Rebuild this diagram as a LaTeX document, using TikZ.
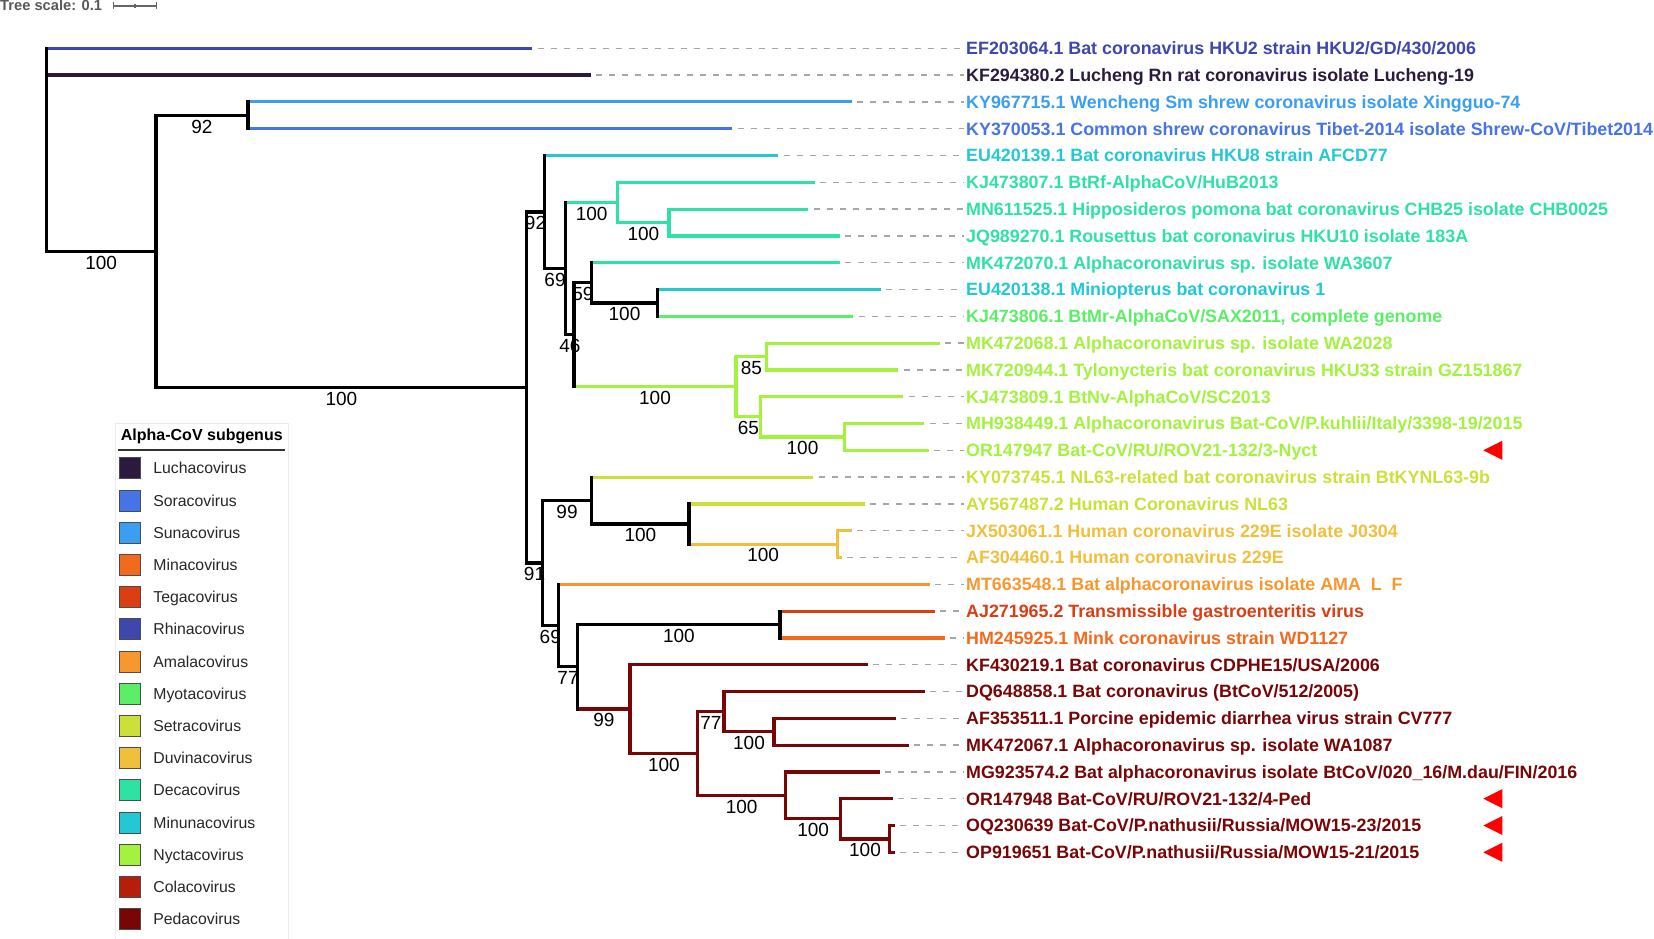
\documentclass[tikz,border=0pt]{standalone}
\usepackage{fontspec}
\setmainfont{Liberation Sans}
\usetikzlibrary{positioning}

\definecolor{lucha}{HTML}{2B1A3E}
\definecolor{sora}{HTML}{4673E6}
\definecolor{suna}{HTML}{3A9EF2}
\definecolor{mina}{HTML}{F26A1E}
\definecolor{tega}{HTML}{DA3E12}
\definecolor{rhina}{HTML}{3E47AC}
\definecolor{amala}{HTML}{F7982F}
\definecolor{myota}{HTML}{5CEE66}
\definecolor{setra}{HTML}{CCE03A}
\definecolor{duvina}{HTML}{F0C03C}
\definecolor{deca}{HTML}{2EE2A4}
\definecolor{minuna}{HTML}{22C8D4}
\definecolor{nycta}{HTML}{A2F23E}
\definecolor{cola}{HTML}{B61E0A}
\definecolor{peda}{HTML}{780606}

\tikzstyle{branch} = [line width=3.2pt, line cap=rect]
\tikzstyle{support} = [midway, yshift=-11pt, inner sep=0pt, text height=13.5pt, text depth=0pt,
font=\fontsize{19}{19}\selectfont]
\tikzstyle{tiplabel} = [anchor=west, inner sep=0pt, text height=12.8pt, text depth=0pt,
font=\bfseries\fontsize{17.85}{18}\selectfont]
\tikzstyle{guide} = [draw=black!35, line width=1.3pt, dash pattern=on 6pt off 7pt, shorten <=7pt, shorten >=2pt]
\tikzstyle{swatch} = [rectangle, draw=black!70, line width=0.9pt, minimum size=21pt, inner sep=0pt]
\tikzstyle{legtext} = [anchor=west, inner sep=0pt, text height=11.3pt, text depth=0pt, text=black!85,
font=\fontsize{15.8}{16}\selectfont]

\newcommand{\ry}[1]{48.3+26.8*#1}

\begin{document}
\begin{tikzpicture}[x=1pt, y=-1pt]
	\useasboundingbox (0,0) rectangle (1654,939);

	% Tree scale
	\node [anchor=base west, inner sep=0pt, text=black!65, font=\bfseries\fontsize{14.7}{15}\selectfont] (scaletext) at (0,11) {Tree scale: 0.1};
	\draw [black!60, line width=1.2pt] (113.3,6) -- (156.7,6);
	\draw [black!60, line width=1.2pt] (113.3,2.5) -- (113.3,9.5) (156.7,2.5) -- (156.7,9.5) (135,4) -- (135,8);

	% Place leaves
	\coordinate (t0) at (530.7,{\ry{0}});
	\coordinate (t1) at (589.3,{\ry{1}});
	\coordinate (t2) at (850,{\ry{2}});
	\coordinate (t3) at (730.7,{\ry{3}});
	\coordinate (t4) at (776.7,{\ry{4}});
	\coordinate (t5) at (813.3,{\ry{5}});
	\coordinate (t6) at (806.7,{\ry{6}});
	\coordinate (t7) at (838.3,{\ry{7}});
	\coordinate (t8) at (838.3,{\ry{8}});
	\coordinate (t9) at (879,{\ry{9}});
	\coordinate (t10) at (851.7,{\ry{10}});
	\coordinate (t11) at (938.3,{\ry{11}});
	\coordinate (t12) at (896.7,{\ry{12}});
	\coordinate (t13) at (901.7,{\ry{13}});
	\coordinate (t14) at (922.7,{\ry{14}});
	\coordinate (t15) at (927.3,{\ry{15}});
	\coordinate (t16) at (811.7,{\ry{16}});
	\coordinate (t17) at (863.3,{\ry{17}});
	\coordinate (t18) at (850,{\ry{18}});
	\coordinate (t19) at (840,{\ry{19}});
	\coordinate (t20) at (928.3,{\ry{20}});
	\coordinate (t21) at (933.3,{\ry{21}});
	\coordinate (t22) at (943.3,{\ry{22}});
	\coordinate (t23) at (866,{\ry{23}});
	\coordinate (t24) at (923.3,{\ry{24}});
	\coordinate (t25) at (894.3,{\ry{25}});
	\coordinate (t26) at (907.3,{\ry{26}});
	\coordinate (t27) at (878.3,{\ry{27}});
	\coordinate (t28) at (891,{\ry{28}});
	\coordinate (t29) at (893,{\ry{29}});
	\coordinate (t30) at (893,{\ry{30}});

	% Place inner nodes
	\coordinate (root) at (46.4,{\ry{0}});
	\coordinate (nA) at (156,{\ry{7.5791}});
	\coordinate (nB) at (248,{\ry{2.5}});
	\coordinate (nC) at (526.7,{\ry{12.6582}});
	\coordinate (nD) at (544.3,{\ry{6.1094}});
	\coordinate (nE) at (565.7,{\ry{8.2188}});
	\coordinate (nF) at (617.7,{\ry{5.75}});
	\coordinate (nG) at (669,{\ry{6.5}});
	\coordinate (nH) at (574,{\ry{10.6875}});
	\coordinate (nI) at (591.7,{\ry{8.75}});
	\coordinate (nJ) at (657.3,{\ry{9.5}});
	\coordinate (nK) at (736,{\ry{12.625}});
	\coordinate (nL) at (766.7,{\ry{11.5}});
	\coordinate (nM) at (760.7,{\ry{13.75}});
	\coordinate (nN) at (844.3,{\ry{14.5}});
	\coordinate (nP) at (542.3,{\ry{19.207}});
	\coordinate (nQ) at (591.7,{\ry{16.875}});
	\coordinate (nR) at (689,{\ry{17.75}});
	\coordinate (nS) at (837.3,{\ry{18.5}});
	\coordinate (nT) at (558.3,{\ry{21.5391}});
	\coordinate (nU) at (577.7,{\ry{23.0781}});
	\coordinate (nV) at (780,{\ry{21.5}});
	\coordinate (nW) at (630,{\ry{24.6563}});
	\coordinate (nX) at (697.7,{\ry{26.3125}});
	\coordinate (nY) at (724,{\ry{24.75}});
	\coordinate (nZ) at (774,{\ry{25.5}});
	\coordinate (nAA) at (785.7,{\ry{27.875}});
	\coordinate (nAB) at (840.7,{\ry{28.75}});
	\coordinate (nAC) at (889.3,{\ry{29.5}});

	% Place labels
	\node [tiplabel, text=rhina] (l0) at (966,{\ry{0}}) {EF203064.1 Bat coronavirus HKU2 strain HKU2/GD/430/2006};
	\node [tiplabel, text=lucha] (l1) at (966,{\ry{1}}) {KF294380.2 Lucheng Rn rat coronavirus isolate Lucheng-19};
	\node [tiplabel, text=suna] (l2) at (966,{\ry{2}}) {KY967715.1 Wencheng Sm shrew coronavirus isolate Xingguo-74};
	\node [tiplabel, text=sora] (l3) at (966,{\ry{3}}) {KY370053.1 Common shrew coronavirus Tibet-2014 isolate Shrew-CoV/Tibet2014};
	\node [tiplabel, text=minuna] (l4) at (966,{\ry{4}}) {EU420139.1 Bat coronavirus HKU8 strain AFCD77};
	\node [tiplabel, text=deca] (l5) at (966,{\ry{5}}) {KJ473807.1 BtRf-AlphaCoV/HuB2013};
	\node [tiplabel, text=deca] (l6) at (966,{\ry{6}}) {MN611525.1 Hipposideros pomona bat coronavirus CHB25 isolate CHB0025};
	\node [tiplabel, text=deca] (l7) at (966,{\ry{7}}) {JQ989270.1 Rousettus bat coronavirus HKU10 isolate 183A};
	\node [tiplabel, text=deca] (l8) at (966,{\ry{8}}) {MK472070.1 Alphacoronavirus sp. isolate WA3607};
	\node [tiplabel, text=minuna] (l9) at (966,{\ry{9}}) {EU420138.1 Miniopterus bat coronavirus 1};
	\node [tiplabel, text=myota] (l10) at (966,{\ry{10}}) {KJ473806.1 BtMr-AlphaCoV/SAX2011, complete genome};
	\node [tiplabel, text=nycta] (l11) at (966,{\ry{11}}) {MK472068.1 Alphacoronavirus sp. isolate WA2028};
	\node [tiplabel, text=nycta] (l12) at (966,{\ry{12}}) {MK720944.1 Tylonycteris bat coronavirus HKU33 strain GZ151867};
	\node [tiplabel, text=nycta] (l13) at (966,{\ry{13}}) {KJ473809.1 BtNv-AlphaCoV/SC2013};
	\node [tiplabel, text=nycta] (l14) at (966,{\ry{14}}) {MH938449.1 Alphacoronavirus Bat-CoV/P.kuhlii/Italy/3398-19/2015};
	\node [tiplabel, text=nycta] (l15) at (966,{\ry{15}}) {OR147947 Bat-CoV/RU/ROV21-132/3-Nyct};
	\node [tiplabel, text=setra] (l16) at (966,{\ry{16}}) {KY073745.1 NL63-related bat coronavirus strain BtKYNL63-9b};
	\node [tiplabel, text=setra] (l17) at (966,{\ry{17}}) {AY567487.2 Human Coronavirus NL63};
	\node [tiplabel, text=duvina] (l18) at (966,{\ry{18}}) {JX503061.1 Human coronavirus 229E isolate J0304};
	\node [tiplabel, text=duvina] (l19) at (966,{\ry{19}}) {AF304460.1 Human coronavirus 229E};
	\node [tiplabel, text=amala] (l20) at (966,{\ry{20}}) {MT663548.1 Bat alphacoronavirus isolate AMA\ \ L\ \ F};
	\node [tiplabel, text=tega] (l21) at (966,{\ry{21}}) {AJ271965.2 Transmissible gastroenteritis virus};
	\node [tiplabel, text=mina] (l22) at (966,{\ry{22}}) {HM245925.1 Mink coronavirus strain WD1127};
	\node [tiplabel, text=peda] (l23) at (966,{\ry{23}}) {KF430219.1 Bat coronavirus CDPHE15/USA/2006};
	\node [tiplabel, text=peda] (l24) at (966,{\ry{24}}) {DQ648858.1 Bat coronavirus (BtCoV/512/2005)};
	\node [tiplabel, text=peda] (l25) at (966,{\ry{25}}) {AF353511.1 Porcine epidemic diarrhea virus strain CV777};
	\node [tiplabel, text=peda] (l26) at (966,{\ry{26}}) {MK472067.1 Alphacoronavirus sp. isolate WA1087};
	\node [tiplabel, text=peda] (l27) at (966,{\ry{27}}) {MG923574.2 Bat alphacoronavirus isolate BtCoV/020\_16/M.dau/FIN/2016};
	\node [tiplabel, text=peda] (l28) at (966,{\ry{28}}) {OR147948 Bat-CoV/RU/ROV21-132/4-Ped};
	\node [tiplabel, text=peda] (l29) at (966,{\ry{29}}) {OQ230639 Bat-CoV/P.nathusii/Russia/MOW15-23/2015};
	\node [tiplabel, text=peda] (l30) at (966,{\ry{30}}) {OP919651 Bat-CoV/P.nathusii/Russia/MOW15-21/2015};

	% Draw edges
	\foreach \i in {0,...,30}
		\draw [guide] (t\i) -- (l\i.west);

	\foreach \p/\i/\c in {root/0/rhina, root/1/lucha, nB/2/suna, nB/3/sora, nD/4/minuna, nF/5/deca,
		nG/6/deca, nG/7/deca, nI/8/deca, nJ/9/minuna, nJ/10/myota, nL/11/nycta, nL/12/nycta, nM/13/nycta,
		nN/14/nycta, nN/15/nycta, nQ/16/setra, nR/17/setra, nS/18/duvina, nS/19/duvina, nT/20/amala,
		nV/21/tega, nV/22/mina, nW/23/peda, nY/24/peda, nZ/25/peda, nZ/26/peda, nAA/27/peda,
		nAB/28/peda, nAC/29/peda, nAC/30/peda}
		\draw [branch, \c] (\p |- t\i) -- (t\i);

	\foreach \p/\q/\c/\s in {root/nA/black/100, nA/nB/black/92, nA/nC/black/100, nC/nD/black/92,
		nD/nE/black/69, nE/nF/deca/100, nF/nG/deca/100, nE/nH/black/46, nH/nI/black/59, nI/nJ/black/100,
		nH/nK/nycta/100, nK/nL/nycta/85, nK/nM/nycta/65, nM/nN/nycta/100, nC/nP/black/91, nP/nQ/black/99,
		nQ/nR/black/100, nR/nS/duvina/100, nP/nT/black/69, nT/nU/black/77, nU/nV/black/100,
		nU/nW/peda/99, nW/nX/peda/100, nX/nY/peda/77, nY/nZ/peda/100, nX/nAA/peda/100,
		nAA/nAB/peda/100, nAB/nAC/peda/100}
		\draw [branch, \c] (\p |- \q) -- (\q) node [support, text=black] {\s};

	\foreach \n/\a/\b/\c in {root/t0/nA/black, nA/nB/nC/black, nB/t2/t3/black, nC/nD/nP/black,
		nD/t4/nE/black, nE/nF/nH/black, nF/t5/nG/deca, nG/t6/t7/deca, nH/nI/nK/black, nI/t8/nJ/black,
		nJ/t9/t10/black, nK/nL/nM/nycta, nL/t11/t12/nycta, nM/t13/nN/nycta, nN/t14/t15/nycta,
		nP/nQ/nT/black, nQ/t16/nR/black, nR/t17/nS/black, nS/t18/t19/duvina, nT/t20/nU/black,
		nU/nV/nW/black, nV/t21/t22/black, nW/t23/nX/peda, nX/nY/nAA/peda, nY/t24/nZ/peda,
		nZ/t25/t26/peda, nAA/t27/nAB/peda, nAB/t28/nAC/peda, nAC/t29/t30/peda}
		\draw [branch, \c] (\n |- \a) -- (\n |- \b);

	% New sequences
	\foreach \i in {15,28,29,30}
		\fill [red] (1483.3,{\ry{\i}}) -- (1502.3,{\ry{\i}-9.5}) -- (1502.3,{\ry{\i}+9.5}) -- cycle;

	% Legend
	\draw [black!8, line width=1pt] (115,423.3) rectangle (288,945);
	\node [anchor=base west, inner sep=0pt, font=\bfseries\fontsize{16}{16}\selectfont] (legtitle) at (120.7,440.7) {Alpha-CoV subgenus};
	\draw [black!80, line width=1.5pt] (118,450) -- (285,450);
	\foreach \n/\c [count=\k from 0] in {Luchacovirus/lucha, Soracovirus/sora, Sunacovirus/suna,
		Minacovirus/mina, Tegacovirus/tega, Rhinacovirus/rhina, Amalacovirus/amala, Myotacovirus/myota,
		Setracovirus/setra, Duvinacovirus/duvina, Decacovirus/deca, Minunacovirus/minuna,
		Nyctacovirus/nycta, Colacovirus/cola, Pedacovirus/peda}
	{
		\node [swatch, fill=\c] (sw\k) at (130.2,{468.3+32.2*\k}) {};
		\node [legtext, right=12pt of sw\k] (lg\k) {\n};
	}

\end{tikzpicture}
\end{document}
